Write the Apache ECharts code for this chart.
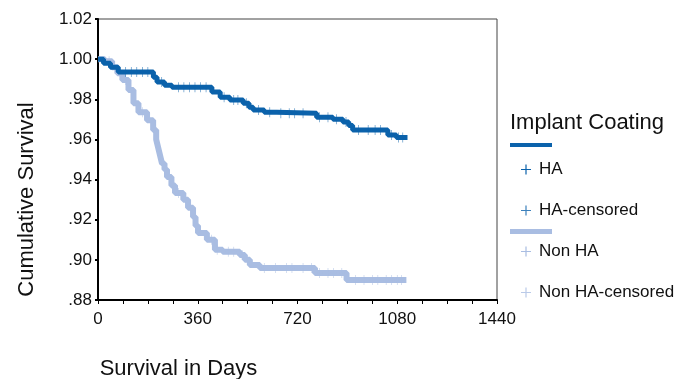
<!DOCTYPE html>
<html>
<head>
<meta charset="utf-8">
<script src="https://cdn.jsdelivr.net/npm/echarts@6/dist/echarts.min.js"></script>
<style>html,body{margin:0;padding:0;background:#fff}#c{width:691px;height:379px}</style>
</head>
<body>
<div id="c"></div>
<script>
// Kaplan-Meier step points: [day, cumulative survival]
var haSurvival = [[0,1.000],[20,0.998],[45,0.996],[73,0.9936],[200,0.991],[213,0.9886],[240,0.987],[267,0.986],[411,0.9836],[441,0.981],[476,0.9796],[524,0.978],[545,0.976],[560,0.9746],[600,0.9736],[645,0.973],[789,0.971],[848,0.970],[884,0.9687],[905,0.967],[919,0.9647],[1046,0.9622],[1077,0.961],[1117,0.961]];
var nonHaSurvival = [[0,1.000],[25,0.999],[51,0.996],[70,0.993],[88,0.9896],[110,0.9846],[128,0.978],[146,0.9736],[177,0.9696],[199,0.9647],[210,0.960],[217,0.956],[224,0.952],[231,0.948],[240,0.945],[249,0.9413],[265,0.937],[278,0.9333],[308,0.930],[325,0.926],[343,0.9214],[352,0.917],[361,0.9134],[393,0.910],[422,0.905],[450,0.904],[512,0.9024],[530,0.900],[548,0.8974],[584,0.896],[783,0.8934],[897,0.890],[1113,0.890]];
var haCensored = [[100,0.9936],[120,0.9936],[140,0.9936],[160,0.9936],[180,0.9936],[230,0.9886],[290,0.986],[310,0.986],[330,0.986],[350,0.986],[370,0.986],[390,0.986],[455,0.981],[490,0.9796],[505,0.9796],[535,0.978],[580,0.9746],[620,0.9736],[660,0.973],[690,0.973],[710,0.973],[740,0.973],[800,0.971],[830,0.971],[860,0.970],[895,0.9687],[940,0.9647],[975,0.9647],[1000,0.9647],[1020,0.9647],[1060,0.9622],[1085,0.961],[1100,0.961]];
var nonHaCensored = [[40,0.999],[100,0.9896],[160,0.9736],[290,0.9333],[410,0.910],[430,0.905],[470,0.904],[490,0.904],[520,0.9024],[600,0.896],[640,0.896],[680,0.896],[700,0.896],[740,0.896],[770,0.896],[800,0.8934],[830,0.8934],[850,0.8934],[880,0.8934],[930,0.890],[960,0.890],[990,0.890],[1010,0.890],[1040,0.890],[1060,0.890],[1080,0.890],[1095,0.890]];
var xTickLabels = [0, 360, 720, 1080, 1440];
var seriesNames = ['HA', 'HA-censored', 'Non HA', 'Non HA-censored'];

var DARK = '#0b62ab', LIGHT = '#a9bde2';
var PLUS = 'path://M4.4,0H5.6V4.4H10V5.6H5.6V10H4.4V5.6H0V4.4H4.4Z';
var FONT = '"Liberation Sans", Arial, sans-serif';

var chart = echarts.init(document.getElementById('c'));
chart.setOption({
  animation: false,
  backgroundColor: '#fff',
  textStyle: {fontFamily: FONT},
  title: {
    text: 'Implant Coating', left: 505, top: 107,
    textStyle: {fontFamily: FONT, fontSize: 22, fontWeight: 'normal', color: '#111'}
  },
  legend: {
    orient: 'vertical', left: 516, top: 156,
    itemWidth: 10, itemHeight: 10, itemGap: 24,
    data: seriesNames.map(function (n) { return {name: n, icon: PLUS}; }),
    textStyle: {fontFamily: FONT, fontSize: 17, color: '#111', padding: [0,0,0,3]}
  },
  graphic: [
    {type: 'rect', left: 510, top: 143, shape: {width: 42, height: 4}, style: {fill: DARK}},
    {type: 'rect', left: 510, top: 229, shape: {width: 42, height: 5}, style: {fill: LIGHT}}
  ],
  grid: {left: 98, right: 194, top: 19, bottom: 79, show: true, borderColor: '#444', borderWidth: 1,
         backgroundColor: 'transparent', containLabel: false, outerBoundsMode: 'none'},
  xAxis: {
    type: 'value', min: 0, max: 1440, interval: 90,
    name: 'Survival in Days', nameLocation: 'middle', nameGap: 58,
    nameTextStyle: {fontFamily: FONT, fontSize: 22, color: '#111', padding: [0, 238, 0, 0]},
    axisLine: {onZero: false, lineStyle: {color: '#000', width: 2}},
    axisTick: {show: true, length: 4, lineStyle: {color: '#000', width: 1}},
    axisLabel: {
      fontFamily: FONT, fontSize: 17, color: '#111', margin: 11,
      formatter: function (v) { return xTickLabels.indexOf(v) >= 0 ? String(v) : ''; }
    },
    splitLine: {show: false}
  },
  yAxis: {
    type: 'value', min: 0.88, max: 1.02, interval: 0.02,
    name: 'Cumulative Survival', nameLocation: 'middle', nameGap: 60, nameRotate: 90,
    nameTextStyle: {fontFamily: FONT, fontSize: 22, color: '#111', padding: [0, 80, 0, 0]},
    axisLine: {onZero: false, lineStyle: {color: '#000', width: 2}},
    axisTick: {show: true, length: 3, lineStyle: {color: '#000', width: 2}},
    axisLabel: {
      fontFamily: FONT, fontSize: 17, color: '#111', margin: 6,
      formatter: function (v) { var s = v.toFixed(2); return v >= 0.995 ? s : s.slice(1); }
    },
    splitLine: {show: false}
  },
  series: [
    {name: 'HA', type: 'line', step: 'end', data: haSurvival, showSymbol: false, symbol: 'none',
     itemStyle: {color: DARK}, lineStyle: {color: DARK, width: 5}, z: 3},
    {name: 'HA-censored', type: 'scatter', data: haCensored, symbol: PLUS, symbolSize: [5, 10],
     itemStyle: {color: DARK}, z: 4},
    {name: 'Non HA', type: 'line', step: 'end', data: nonHaSurvival, showSymbol: false, symbol: 'none',
     itemStyle: {color: LIGHT}, lineStyle: {color: LIGHT, width: 6}, z: 2},
    {name: 'Non HA-censored', type: 'scatter', data: nonHaCensored, symbol: PLUS, symbolSize: [5, 10],
     itemStyle: {color: LIGHT}, z: 2}
  ]
});
</script>
</body>
</html>
